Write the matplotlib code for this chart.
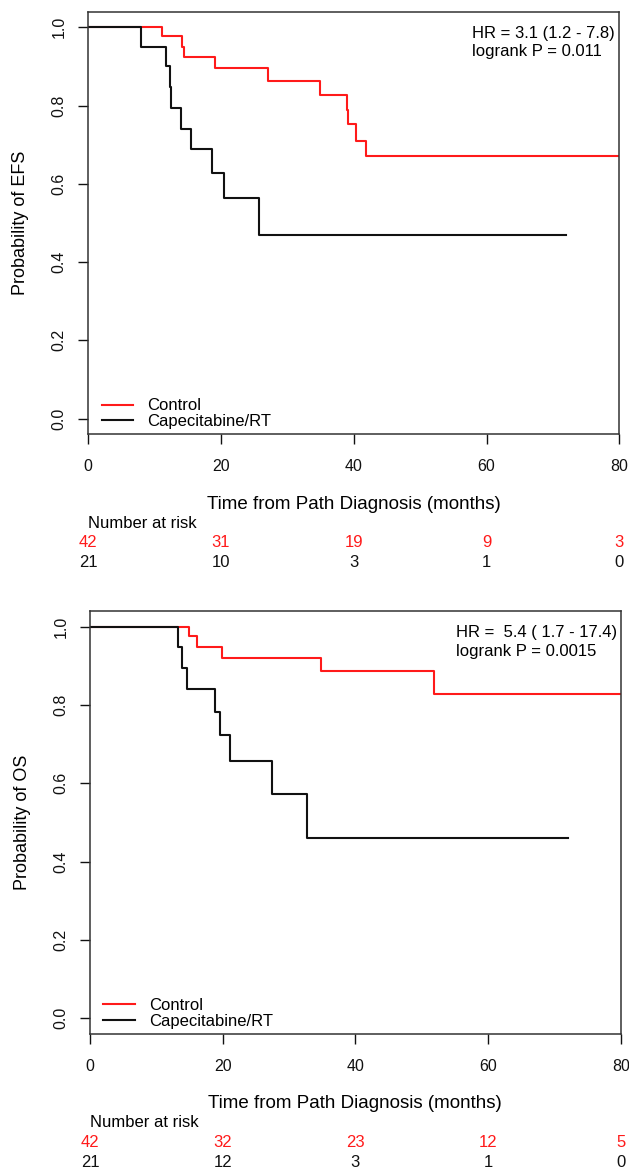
import matplotlib
matplotlib.use("Agg")
import matplotlib.pyplot as plt
from matplotlib.lines import Line2D

plt.rcParams['font.family'] = ['Liberation Sans', 'DejaVu Sans']

# Kaplan-Meier curves (time in months, survival probability)
efs_ctrl_t = [0, 11.05, 14.1, 14.4, 19.1, 27.1, 34.9, 39.0, 39.2, 40.4, 41.8, 80]
efs_ctrl_s = [1.0, 0.977, 0.949, 0.924, 0.897, 0.862, 0.827, 0.790, 0.752, 0.710, 0.671, 0.671]
efs_cape_t = [0, 8.0, 11.7, 12.3, 12.5, 13.9, 15.4, 18.7, 20.5, 25.7, 72]
efs_cape_s = [1.0, 0.951, 0.900, 0.847, 0.794, 0.741, 0.688, 0.627, 0.564, 0.470, 0.470]

os_ctrl_t = [0, 14.9, 16.2, 19.9, 34.8, 51.9, 80]
os_ctrl_s = [1.0, 0.975, 0.948, 0.920, 0.886, 0.827, 0.827]
os_cape_t = [0, 13.2, 13.9, 14.6, 18.8, 19.6, 21.1, 27.5, 32.7, 72]
os_cape_s = [1.0, 0.947, 0.895, 0.840, 0.782, 0.723, 0.657, 0.574, 0.460, 0.460]

risk_times = [0, 20, 40, 60, 80]
efs_risk_ctrl = [42, 31, 19, 9, 3]
efs_risk_cape = [21, 10, 3, 1, 0]
os_risk_ctrl = [42, 32, 23, 12, 5]
os_risk_cape = [21, 12, 3, 1, 0]

groups = ['Control', 'Capecitabine/RT']
colors = ['#ff1a1a', '#111111']

W, H = 629, 1172
fig = plt.figure(figsize=(W / 100, H / 100), dpi=100)


def km_panel(rect, ctrl_t, ctrl_s, cape_t, cape_s, ylabel, hr_lines, risk_ctrl, risk_cape, hr_x):
    ax = fig.add_axes(rect)
    ax.step(ctrl_t, ctrl_s, where='post', color=colors[0], lw=1.5)
    ax.step(cape_t, cape_s, where='post', color=colors[1], lw=1.5)
    ax.set_xlim(0, 80)
    ax.set_ylim(-0.04, 1.04)
    ax.set_xticks(risk_times)
    ax.set_yticks([0.0, 0.2, 0.4, 0.6, 0.8, 1.0])
    ax.set_yticklabels(['0.0', '0.2', '0.4', '0.6', '0.8', '1.0'], rotation=90, va='center')
    ax.tick_params(direction='out', length=7.5, width=1.0, labelsize=11.5, colors='#111111')
    ax.tick_params(axis='x', pad=10.5)
    ax.tick_params(axis='y', pad=8)
    for sp in ax.spines.values():
        sp.set_linewidth(1.1)
        sp.set_color('#333333')
    ax.set_ylabel(ylabel, fontsize=13)
    ax.yaxis.set_label_coords(-0.112, 0.5)
    ax.set_xlabel('Time from Path Diagnosis (months)', fontsize=13.5)
    ax.xaxis.set_label_coords(0.5, -0.145)

    handles = [Line2D([], [], color=c, lw=1.5) for c in colors]
    ax.legend(handles, groups, loc='lower left', bbox_to_anchor=(0.025, 0.012),
              frameon=False, fontsize=12, handlelength=1.9, handletextpad=0.85,
              labelspacing=0.05, borderpad=0, borderaxespad=0)

    ax.text(hr_x, 0.949, hr_lines[0], transform=ax.transAxes, fontsize=12, va='center', ha='left')
    ax.text(hr_x, 0.905, hr_lines[1], transform=ax.transAxes, fontsize=12, va='center', ha='left')

    tr = ax.get_xaxis_transform()
    ax.text(0, -0.21, 'Number at risk', transform=tr, fontsize=12, ha='left', va='center')
    for t, a, b in zip(risk_times, risk_ctrl, risk_cape):
        ax.text(t, -0.257, str(a), transform=tr, fontsize=12, ha='center', va='center', color=colors[0])
        ax.text(t, -0.304, str(b), transform=tr, fontsize=12, ha='center', va='center', color=colors[1])
    return ax


km_panel([88.3 / W, 1 - 434.3 / H, 531.0 / W, 422.6 / H],
         efs_ctrl_t, efs_ctrl_s, efs_cape_t, efs_cape_s, 'Probability of EFS',
         ['HR = 3.1 (1.2 - 7.8)', 'logrank P = 0.011'], efs_risk_ctrl, efs_risk_cape, 0.722)

km_panel([90.0 / W, 1 - 1034.0 / H, 530.7 / W, 423.0 / H],
         os_ctrl_t, os_ctrl_s, os_cape_t, os_cape_s, 'Probability of OS',
         ['HR =  5.4 ( 1.7 - 17.4)', 'logrank P = 0.0015'], os_risk_ctrl, os_risk_cape, 0.69)

fig.savefig('out.png', dpi=100, facecolor='white')
